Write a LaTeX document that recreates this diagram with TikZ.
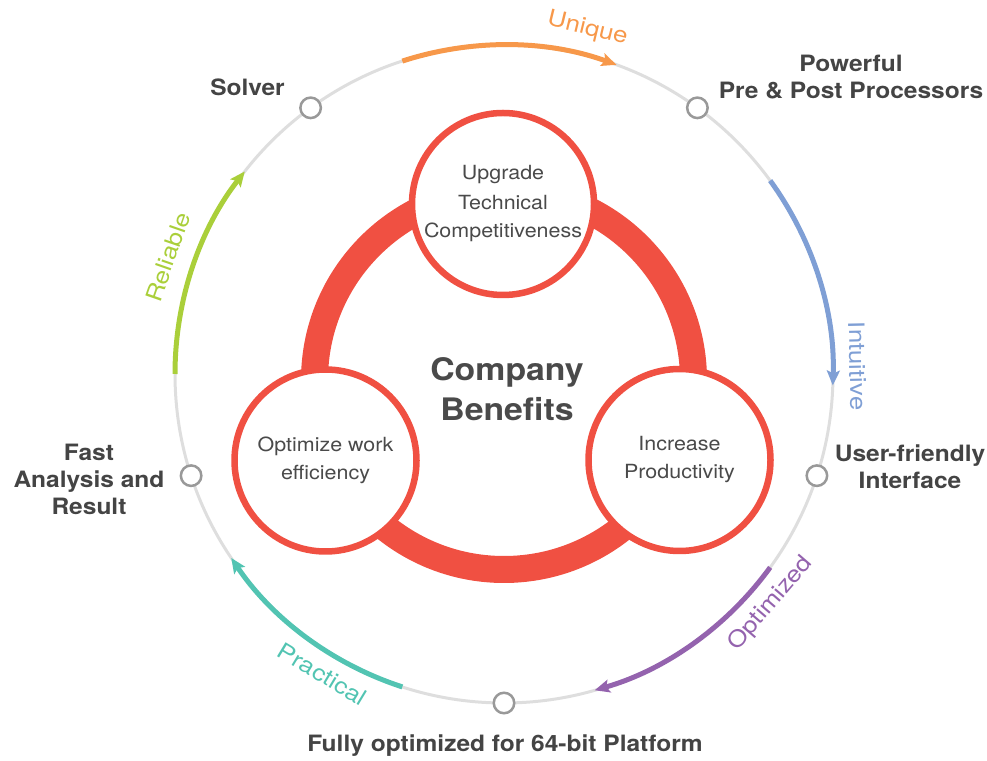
\documentclass[tikz,border=0pt]{standalone}
\usepackage{fontspec}
\setmainfont{TeX Gyre Heros}
\newfontfamily\titlefont[FakeStretch=1.09]{TeX Gyre Heros}
\newfontfamily\tagfont[FakeStretch=1.15]{TeX Gyre Heros}
\newfontfamily\hubfont[FakeStretch=1.1]{TeX Gyre Heros}
\usetikzlibrary{arrows.meta}

\definecolor{benefitred}{HTML}{F05042}
\definecolor{ringgray}{HTML}{DEDEDE}
\definecolor{portgray}{HTML}{999999}
\definecolor{labelgray}{HTML}{444444}
\definecolor{hubgray}{HTML}{4A4A4A}
\definecolor{uniqueorange}{HTML}{F7984A}
\definecolor{intuitiveblue}{HTML}{7F9FD5}
\definecolor{optimizedpurple}{HTML}{9463AE}
\definecolor{practicalteal}{HTML}{52C4B2}
\definecolor{reliablegreen}{HTML}{AACF3A}

\tikzset{
    hub/.style={circle, draw=benefitred, line width=6.5pt, fill=white, minimum size=182pt,
        inner sep=0pt, align=center, text=hubgray, font=\hubfont\fontsize{19.5}{28}\selectfont},
    port/.style={circle, draw=portgray, line width=2.5pt, fill=white, minimum size=20.5pt, inner sep=0pt},
    title/.style={align=center, text=labelgray, font=\titlefont\bfseries\fontsize{22.5}{27}\selectfont},
    tag/.style={font=\tagfont\fontsize{22.5}{26}\selectfont},
    flow/.style={line width=5pt, -{Stealth[length=15pt,width=13pt,inset=3pt]}}
}

\begin{document}
\begin{tikzpicture}[x=1pt,y=1pt]
            \useasboundingbox (0,0) rectangle (987,760);

            \coordinate (O) at (504,386);
            \coordinate (R) at (504,380);

            \draw[ringgray, line width=3pt] (O) circle[radius=329];

            \draw[flow, uniqueorange] ([shift={(108:329)}]O) arc[start angle=108, end angle=70, radius=329];
            \draw[flow, intuitiveblue] ([shift={(36:329)}]O) arc[start angle=36, end angle=-2, radius=329];
            \draw[flow, optimizedpurple] ([shift={(-36:329)}]O) arc[start angle=-36, end angle=-74, radius=329];
            \draw[flow, practicalteal] ([shift={(252:329)}]O) arc[start angle=252, end angle=214, radius=329];
            \draw[flow, reliablegreen] ([shift={(180:329)}]O) arc[start angle=180, end angle=142, radius=329];

            \node[tag, text=uniqueorange, rotate=-13.6] (unique) at ([shift={(76.4:355)}]O) {Unique};
            \node[tag, text=intuitiveblue, rotate=-88.7] (intuitive) at ([shift={(1.3:354)}]O) {Intuitive};
            \node[tag, text=optimizedpurple, rotate=49.3] (optimized) at ([shift={(-40.7:352)}]O) {Optimized};
            \node[tag, text=practicalteal, rotate=-31.2] (practical) at ([shift={(238.8:351)}]O) {Practical};
            \node[tag, text=reliablegreen, rotate=70.8] (reliable) at ([shift={(160.8:356)}]O) {Reliable};

            \node[port] (solver) at ([shift={(126:329)}]O) {};
            \node[port] (processors) at ([shift={(54:329)}]O) {};
            \node[port] (interface) at ([shift={(-18:329)}]O) {};
            \node[port] (platform) at ([shift={(-90:329)}]O) {};
            \node[port] (analysis) at ([shift={(198:329)}]O) {};

            \node[title] (solverlabel) at (247.5,673) {Solver};
            \node[title] (processorslabel) at (851,682.5) {Powerful\\Pre \& Post Processors};
            \node[title] (interfacelabel) at (910,293.5) {User-friendly\\Interface};
            \node[title] (platformlabel) at (505,14.5) {Fully optimized for 64-bit Platform};
            \node[title] (analysislabel) at (89,281) {Fast\\Analysis and\\Result};

            \draw[benefitred, line width=27pt] (R) circle[radius=189.5];

            \node[hub] (upgrade) at (503,556) {Upgrade\\[2pt]Technical\\Competitiveness};
            \node[hub] (efficiency) at (325.5,299.5) {Optimize work\\efficiency};
            \node[hub] (productivity) at (679.5,300) {Increase\\Productivity};

            \node[align=center, text=hubgray, font=\titlefont\bfseries\fontsize{31}{40}\selectfont] (benefits) at (507,371) {Company\\Benefits};
        \end{tikzpicture}
\end{document}
